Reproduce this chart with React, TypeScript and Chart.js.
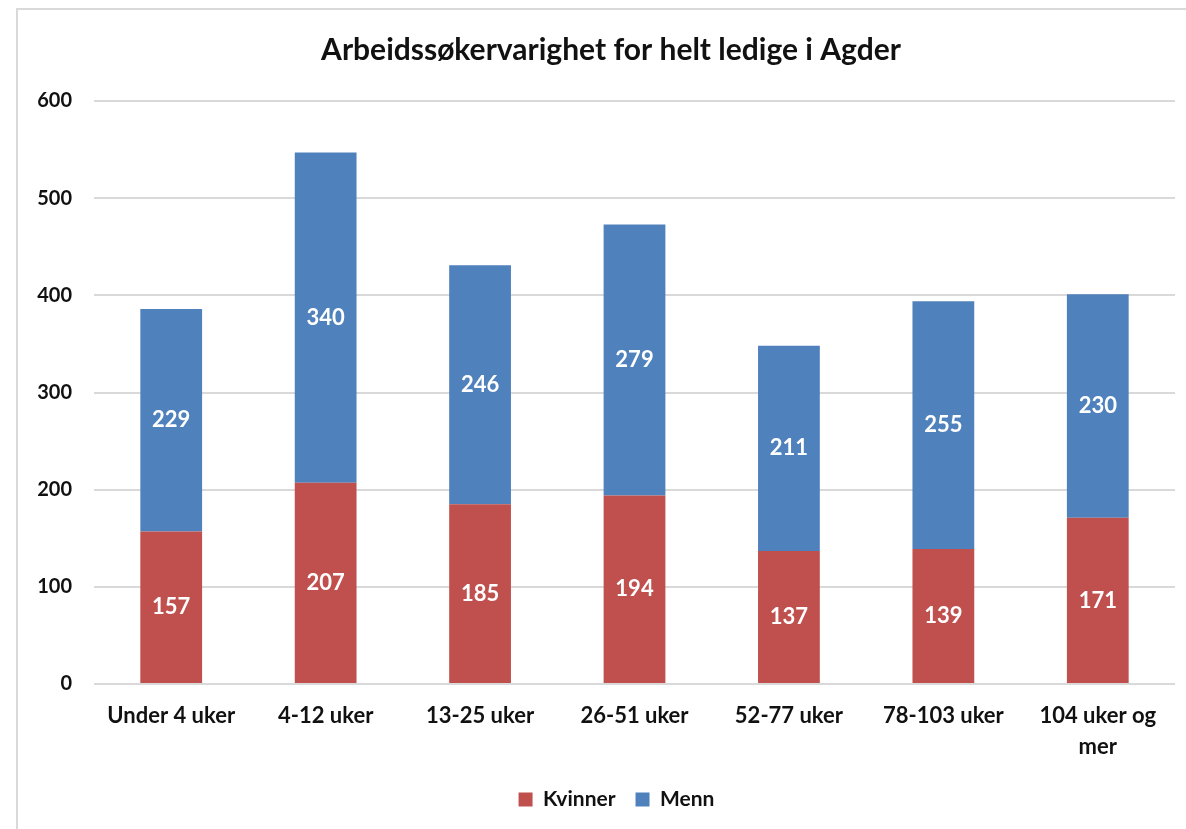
import React, { useEffect, useRef } from "react";
import { Chart, registerables } from "chart.js";

Chart.register(...registerables);

const categories: (string | string[])[] = [
  "Under 4 uker",
  "4-12 uker",
  "13-25 uker",
  "26-51 uker",
  "52-77 uker",
  "78-103 uker",
  ["104 uker og", "mer"],
];
const kvinner = [157, 207, 185, 194, 137, 139, 171];
const menn = [229, 340, 246, 279, 211, 255, 230];
const yTicks = [0, 100, 200, 300, 400, 500, 600];

const FONT = "Lato, 'Open Sans', sans-serif";

const valueLabels = {
  id: "valueLabels",
  afterDatasetsDraw(chart: any) {
    const ctx = chart.ctx;
    ctx.save();
    ctx.fillStyle = "#ffffff";
    ctx.font = `bold 22px ${FONT}`;
    ctx.textAlign = "center";
    ctx.textBaseline = "middle";
    chart.data.datasets.forEach((ds: any, di: number) => {
      const meta = chart.getDatasetMeta(di);
      meta.data.forEach((el: any, i: number) => {
        const y = (el.y + el.base) / 2;
        ctx.fillText(String(ds.data[i]), el.x, y);
      });
    });
    ctx.restore();
  },
};

// Shift title and legend to sit centred like the original (centred on the framed chart box)
const shiftBlocks = {
  id: "shiftBlocks",
  afterLayout(chart: any) {
    if (chart.titleBlock) {
      chart.titleBlock.left += 47;
    }
    if (chart.legend) {
      chart.legend.left += 29;
      chart.legend.right += 29;
    }
  },
};

export default function App() {
  const ref = useRef<HTMLCanvasElement | null>(null);
  useEffect(() => {
    if (!ref.current) return;
    const chart = new Chart(ref.current, {
      type: "bar",
      data: {
        labels: categories,
        datasets: [
          {
            label: "Kvinner",
            data: kvinner,
            backgroundColor: "#C0504D",
            barPercentage: 0.4,
            categoryPercentage: 1,
          },
          {
            label: "Menn",
            data: menn,
            backgroundColor: "#4F81BD",
            barPercentage: 0.4,
            categoryPercentage: 1,
          },
        ],
      },
      options: {
        responsive: false,
        animation: false,
        devicePixelRatio: 1,
        layout: { padding: { left: 0, right: 11, top: 0, bottom: 9 } },
        plugins: {
          title: {
            display: true,
            text: "Arbeidssøkervarighet for helt ledige i Agder",
            color: "#111",
            font: { family: FONT, size: 30, weight: "bold", lineHeight: 1.2 },
            padding: { top: 32, bottom: 33 },
          },
          legend: {
            display: true,
            position: "bottom",
            labels: {
              color: "#111",
              font: { family: FONT, size: 21, weight: "bold" },
              boxWidth: 14,
              boxHeight: 14,
              padding: 20,
            },
          },
          tooltip: { enabled: false },
        },
        scales: {
          x: {
            stacked: true,
            grid: { display: false, drawTicks: false },
            border: { display: false },
            ticks: {
              color: "#111",
              font: { family: FONT, size: 22, weight: "bold", lineHeight: 1.4 },
              padding: 17,
              maxRotation: 0,
              autoSkip: false,
            },
            afterFit: (s: any) => {
              s.height = 85;
            },
          },
          y: {
            stacked: true,
            min: 0,
            max: 600,
            afterBuildTicks: (s: any) => {
              s.ticks = yTicks.map((v) => ({ value: v }));
            },
            grid: { color: "#d9d9d9", lineWidth: 2, drawTicks: false },
            border: { display: false },
            ticks: {
              color: "#111",
              font: { family: FONT, size: 20, weight: "bold" },
              padding: 22,
            },
            afterFit: (s: any) => {
              s.width = 94;
            },
          },
        },
      },
      plugins: [valueLabels, shiftBlocks],
    });
    return () => chart.destroy();
  }, []);

  return (
    <div
      style={{
        position: "fixed",
        left: 0,
        top: 0,
        width: 1186,
        height: 829,
        overflow: "hidden",
        background: "#ffffff",
      }}
    >
      <div
        style={{
          position: "absolute",
          left: 16,
          top: 8,
          width: 1300,
          height: 1000,
          border: "2px solid #d9d9d9",
          boxSizing: "border-box",
        }}
      />
      <canvas
        ref={ref}
        width={1186}
        height={829}
        style={{ position: "absolute", left: 0, top: 0, width: 1186, height: 829 }}
      />
    </div>
  );
}
